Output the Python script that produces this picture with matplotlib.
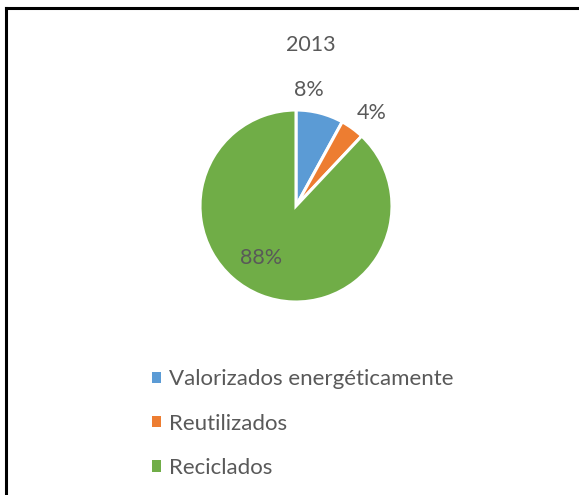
import matplotlib.pyplot as plt
from matplotlib.lines import Line2D
from matplotlib.patches import Patch

plt.rcParams["font.family"] = ["Lato", "DejaVu Sans"]

TEXT_COLOR = "#595959"

title = "2013"
categories = ["Valorizados energéticamente", "Reutilizados", "Reciclados"]
values = [8, 4, 88]
colors = ["#5B9BD5", "#ED7D31", "#70AD47"]
# where each percentage label sits, in pie-radius units
label_pos = [(0.13, 1.21), (0.79, 0.97), (-0.36, -0.54)]

W, H = 579, 495
fig = plt.figure(figsize=(W / 100, H / 100), dpi=100)
fig.patch.set_facecolor("white")

# pie centre (296, 206) px from top-left, radius 96 px
cx, cy, r = 296, 206, 96
ax = fig.add_axes([(cx - r) / W, (H - cy - r) / H, 2 * r / W, 2 * r / H])
wedges, _ = ax.pie(
    values,
    colors=colors,
    startangle=90,
    counterclock=False,
    radius=1,
    wedgeprops={"edgecolor": "white", "linewidth": 2.2},
)
ax.set_xlim(-1, 1)
ax.set_ylim(-1, 1)
ax.set_aspect("equal")
ax.axis("off")

for v, (x, y) in zip(values, label_pos):
    ax.text(x, y, f"{v}%", ha="center", va="center", fontsize=15.5, color=TEXT_COLOR, clip_on=False)

fig.text(311 / W, 1 - 45 / H, title, ha="center", va="center", fontsize=15.5, color=TEXT_COLOR)

handles = [Patch(facecolor=c, edgecolor="none") for c in colors]
fig.legend(
    handles,
    categories,
    loc="upper left",
    bbox_to_anchor=(141 / W, 1 - 358 / H),
    frameon=False,
    fontsize=16,
    labelcolor=TEXT_COLOR,
    handlelength=0.4,
    handleheight=0.4,
    handletextpad=0.38,
    labelspacing=1.1,
    borderpad=0,
)

# chart frame (only left and top edges visible in the crop)
lw = 2.2
fig.add_artist(Line2D([6 / W, 6 / W], [0, 1 - 8 / H], color="black", linewidth=lw, transform=fig.transFigure))
fig.add_artist(Line2D([6 / W, 1], [1 - 8 / H, 1 - 8 / H], color="black", linewidth=lw, transform=fig.transFigure))

fig.savefig("out.png", dpi=100)
